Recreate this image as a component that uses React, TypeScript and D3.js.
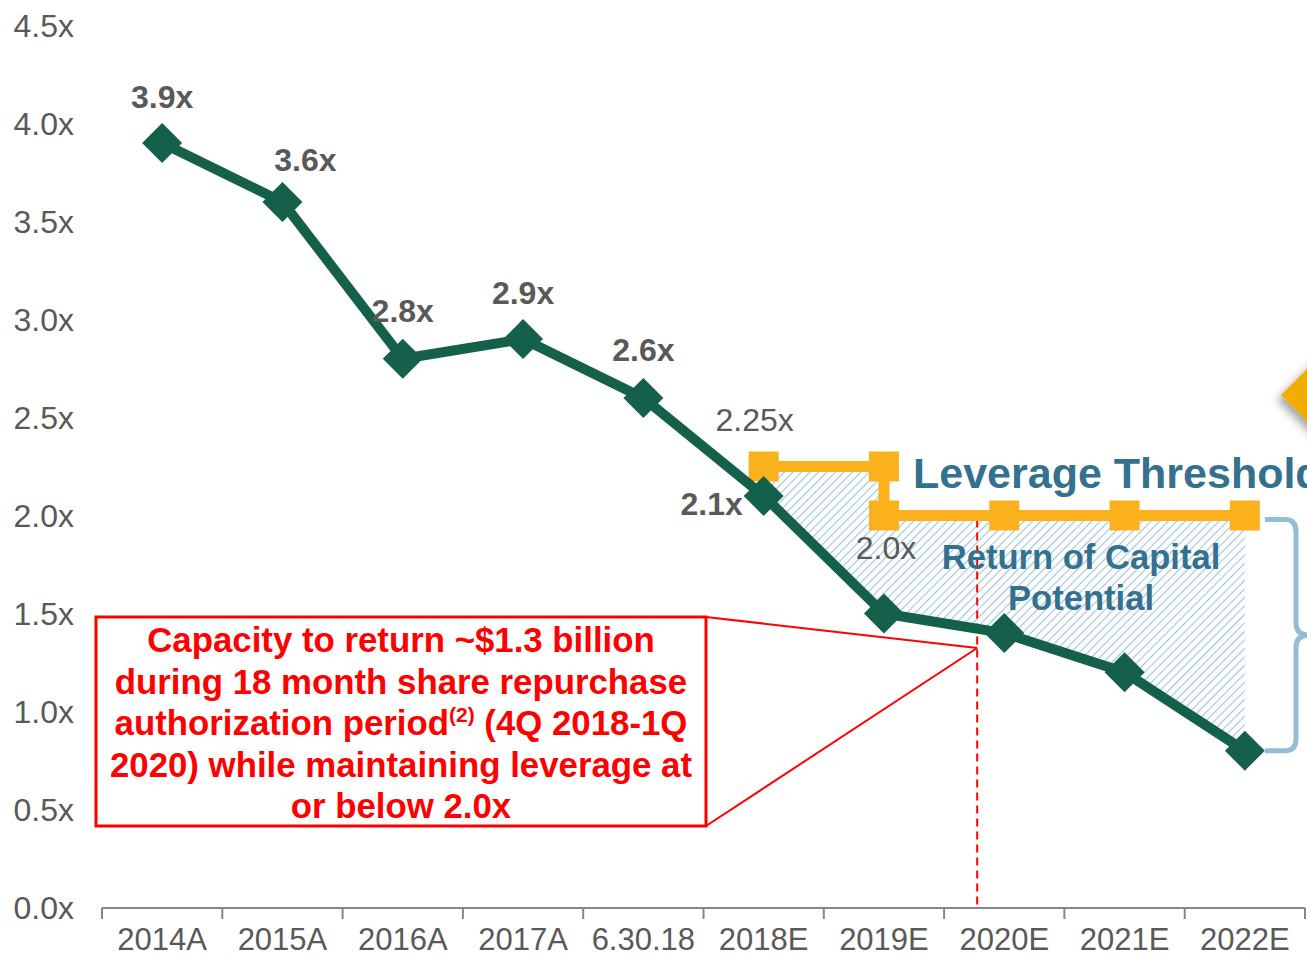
import React from "react";
import * as d3 from "d3";

// chart data
const categories = ["2014A", "2015A", "2016A", "2017A", "6.30.18", "2018E", "2019E", "2020E", "2021E", "2022E"];
const leverage = [3.9, 3.6, 2.8, 2.9, 2.6, 2.1, 1.5, 1.4, 1.2, 0.8];
const yTicks = [0, 0.5, 1, 1.5, 2, 2.5, 3, 3.5, 4, 4.5];
const thresholdHigh = [
  { cat: "2018E", v: 2.25 },
  { cat: "2019E", v: 2.25 },
];
const thresholdLow = [
  { cat: "2019E", v: 2.0 },
  { cat: "2020E", v: 2.0 },
  { cat: "2021E", v: 2.0 },
  { cat: "2022E", v: 2.0 },
];
const calloutLines = [
  "Capacity to return ~$1.3 billion",
  "during 18 month share repurchase",
  "authorization period|(2)| (4Q 2018-1Q",
  "2020) while maintaining leverage at",
  "or below 2.0x",
];
// index position (in category units) of end of repurchase period
const repurchaseEndIdx = 6.775;

// label placement offsets (layout only)
const labelOffsets = [
  [0, -47], [23, -42], [0, -48], [0, -47], [0, -48], [-52, 8], [0, 0], [0, 0], [0, 0], [0, 0],
];

const W = 1307;
const H = 957;
const GREEN = "#14604A";
const ORANGE = "#FBB11B";
const GRAY = "#595959";
const BLUE_TXT = "#33718F";
const RED = "#FF0000";
const FONT = "'Liberation Sans', Arial, sans-serif";

export default function App() {
  const x = d3.scaleBand<string>().domain(categories).range([102, 1305]).padding(0);
  const cx = (c: string) => (x(c) as number) + x.bandwidth() / 2;
  const y = d3.scaleLinear().domain([0, 4.5]).range([907.5, 25.5]);
  const xIdx = d3.scaleLinear().domain([0, 1]).range([cx(categories[0]), cx(categories[1])]);

  const pts = categories.map((c, i) => ({ c, v: leverage[i] }));
  const line = d3.line<{ c: string; v: number }>().x((d) => cx(d.c)).y((d) => y(d.v));
  const tLine = d3.line<{ cat: string; v: number }>().x((d) => cx(d.cat)).y((d) => y(d.v));

  // hatched area: threshold on top, leverage below
  const startI = categories.indexOf("2018E");
  const top = [...thresholdHigh, ...thresholdLow].map((d) => [cx(d.cat), y(d.v)] as [number, number]);
  const bottom = pts.slice(startI).reverse().map((d) => [cx(d.c), y(d.v)] as [number, number]);
  const areaPath = d3.line()([...top, ...bottom]) + "Z";

  const diamond = d3.symbol().type(d3.symbolSquare).size(800)();
  const square = d3.symbol().type(d3.symbolSquare).size(900)();

  const dashX = xIdx(repurchaseEndIdx);
  const box = { x0: 96, y0: 617, x1: 706, y1: 826 };
  const pin = { x: dashX, y: 648 };

  const bx = 1265;
  const bTop = y(2.0) + 4;
  const bBot = y(0.8);
  const bMid = (bTop + bBot) / 2;
  const bracket = `M${bx},${bTop} L${bx + 20},${bTop} Q${bx + 31},${bTop} ${bx + 31},${bTop + 12} L${bx + 31},${bMid - 12} Q${bx + 31},${bMid} ${bx + 44},${bMid} Q${bx + 31},${bMid} ${bx + 31},${bMid + 12} L${bx + 31},${bBot - 12} Q${bx + 31},${bBot} ${bx + 20},${bBot} L${bx},${bBot}`;

  return (
    <svg width={W} height={H} style={{ position: "absolute", left: 0, top: 0, background: "#fff" }} fontFamily={FONT}>
      <defs>
        <pattern id="hatch" width="6" height="6" patternUnits="userSpaceOnUse" patternTransform="rotate(45)">
          <line x1="0" y1="0" x2="0" y2="6" stroke="#9CC4DB" strokeWidth="2.2" />
        </pattern>
        <filter id="shadow" x="-50%" y="-50%" width="200%" height="200%">
          <feDropShadow dx="-4" dy="5" stdDeviation="4" floodColor="#000" floodOpacity="0.35" />
        </filter>
        <linearGradient id="gold" x1="0" y1="0" x2="1" y2="1">
          <stop offset="0" stopColor="#F7B500" />
          <stop offset="1" stopColor="#E39B00" />
        </linearGradient>
      </defs>

      {/* big orange diamond at right edge */}
      <polygon
        points={`1281,395 1340,336 1399,395 1340,454`}
        fill="url(#gold)"
        filter="url(#shadow)"
      />

      {/* y tick labels */}
      {yTicks.map((t) => (
        <text key={t} x={74} y={y(t)} dy="0.36em" textAnchor="end" fontSize={32} fill={GRAY}>
          {t.toFixed(1)}x
        </text>
      ))}

      {/* x axis */}
      <line x1={102} x2={1305} y1={908} y2={908} stroke="#868686" strokeWidth={2} />
      {[...categories.map((c) => x(c) as number), 1305].map((t, i) => (
        <line key={i} x1={t} x2={t} y1={908} y2={919} stroke="#868686" strokeWidth={2} />
      ))}
      {categories.map((c) => (
        <text key={c} x={cx(c)} y={950} textAnchor="middle" fontSize={31} fill={GRAY}>
          {c}
        </text>
      ))}

      {/* hatched return of capital area */}
      <path d={areaPath} fill="url(#hatch)" />

      {/* dashed red line */}
      <line x1={dashX} x2={dashX} y1={y(2.0) + 4} y2={908} stroke={RED} strokeWidth={2} strokeDasharray="8,5" />

      {/* callout */}
      <line x1={box.x1} y1={box.y0} x2={pin.x} y2={pin.y} stroke={RED} strokeWidth={2} />
      <line x1={box.x1} y1={box.y1} x2={pin.x} y2={pin.y} stroke={RED} strokeWidth={2} />
      <rect x={box.x0} y={box.y0} width={box.x1 - box.x0} height={box.y1 - box.y0} fill="#fff" stroke={RED} strokeWidth={3} />
      {calloutLines.map((l, i) => {
        const parts = l.split("|");
        return (
          <text key={i} x={(box.x0 + box.x1) / 2} y={652 + i * 41.5} textAnchor="middle" fontSize={34.8} fontWeight="bold" fill={RED}>
            {parts.length === 1 ? (
              l
            ) : (
              <>
                {parts[0]}
                <tspan fontSize={21} dy={-13}>{parts[1]}</tspan>
                <tspan dy={13}>{parts[2]}</tspan>
              </>
            )}
          </text>
        );
      })}

      {/* threshold line */}
      <path d={tLine(thresholdHigh) as string} fill="none" stroke={ORANGE} strokeWidth={11} />
      <path d={tLine(thresholdLow) as string} fill="none" stroke={ORANGE} strokeWidth={11} />
      <line x1={cx("2019E")} x2={cx("2019E")} y1={y(2.25)} y2={y(2.0)} stroke={ORANGE} strokeWidth={11} />
      {[...thresholdHigh, ...thresholdLow].map((d, i) => (
        <path key={i} d={square as string} transform={`translate(${cx(d.cat)},${y(d.v)})`} fill={ORANGE} />
      ))}

      {/* leverage line */}
      <path d={line(pts) as string} fill="none" stroke={GREEN} strokeWidth={10} strokeLinejoin="round" />
      {pts.map((d) => (
        <path key={d.c} d={diamond as string} transform={`translate(${cx(d.c)},${y(d.v)}) rotate(45)`} fill={GREEN} />
      ))}

      {/* data labels */}
      {pts.slice(0, 6).map((d, i) => (
        <text
          key={d.c}
          x={cx(d.c) + labelOffsets[i][0]}
          y={y(d.v) + labelOffsets[i][1]}
          dy="0.36em"
          textAnchor="middle"
          fontSize={32}
          fontWeight="bold"
          fill={GRAY}
        >
          {d.v.toFixed(1)}x
        </text>
      ))}
      <text x={cx("2018E") - 9} y={y(2.25) - 47} dy="0.36em" textAnchor="middle" fontSize={32} fill={GRAY}>
        {thresholdHigh[0].v}x
      </text>
      <text x={cx("2019E") + 2} y={y(2.0) + 32} dy="0.36em" textAnchor="middle" fontSize={32} fill={GRAY}>
        {thresholdLow[0].v.toFixed(1)}x
      </text>

      {/* annotations */}
      <text x={913} y={488} fontSize={43} fontWeight="bold" fill={BLUE_TXT}>
        Leverage Threshold
      </text>
      <text x={1081} y={569} textAnchor="middle" fontSize={34.6} fontWeight="bold" fill={BLUE_TXT}>
        Return of Capital
      </text>
      <text x={1081} y={610} textAnchor="middle" fontSize={34.6} fontWeight="bold" fill={BLUE_TXT}>
        Potential
      </text>

      {/* bracket */}
      <path d={bracket} fill="none" stroke="#92BFD6" strokeWidth={5} />
    </svg>
  );
}
